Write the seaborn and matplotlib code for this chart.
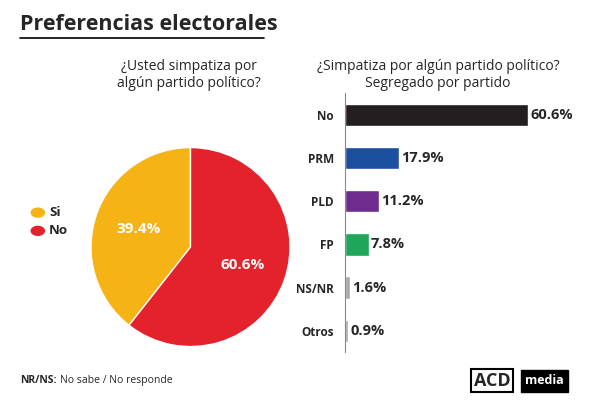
import matplotlib.pyplot as plt
import seaborn as sns
import pandas as pd
import numpy as np

sns.set_style("white")
plt.rcParams['font.family'] = ['Open Sans', 'DejaVu Sans']

pie_labels = ["Si", "No"]
pie_values = [39.4, 60.6]
pie_colors = ["#F6B316", "#E3222B"]

parties = ["No", "PRM", "PLD", "FP", "NS/NR", "Otros"]
party_values = [60.6, 17.9, 11.2, 7.8, 1.6, 0.9]
party_colors = ["#231F20", "#1D4F9F", "#6D2C8E", "#1FA65A", "#A8A9AD", "#A8A9AD"]

fig = plt.figure(figsize=(6, 4.05), dpi=100)

fig.text(0.033, 0.94, "Preferencias electorales", fontsize=15.5, fontweight="bold",
         ha="left", va="center")
fig.add_artist(plt.Line2D([0.033, 0.44], [0.905, 0.905], color="black", lw=1.2))

fig.text(0.315, 0.815, "¿Usted simpatiza por\nalgún partido político?", fontsize=10,
         ha="center", va="center", linespacing=1.2)
fig.text(0.73, 0.815, "¿Simpatiza por algún partido político?\nSegregado por partido",
         fontsize=10, ha="center", va="center", linespacing=1.2)

ax1 = fig.add_axes([0.15, 0.14, 0.335, 0.5])
wedges, _ = ax1.pie(pie_values, colors=pie_colors, startangle=90, counterclock=True)
ax1.set_xlim(-1.01, 1.01)
ax1.set_ylim(-1.01, 1.01)
ax1.set_aspect("equal")
for w, v in zip(wedges, pie_values):
    ang = np.deg2rad((w.theta1 + w.theta2) / 2)
    ax1.text(0.55 * np.cos(ang), 0.55 * np.sin(ang), f"{v}%", color="white",
             fontsize=11, fontweight="bold", ha="center", va="center")

for i, (lab, col) in enumerate(zip(pie_labels, pie_colors)):
    y = 0.475 - i * 0.045
    fig.patches.append(plt.Circle((0.063, y), 0.011, color=col,
                                  transform=fig.transFigure, figure=fig))
    fig.text(0.082, y, lab, fontsize=9.5, fontweight="bold", va="center")

df = pd.DataFrame({"party": parties, "value": party_values})
ax2 = fig.add_axes([0.575, 0.13, 0.305, 0.64])
sns.barplot(data=df, x="value", y="party", hue="party", palette=party_colors,
            legend=False, ax=ax2, width=0.52, saturation=1)
ax2.set_xlim(0, 60.6)
ax2.set_xlabel("")
ax2.set_ylabel("")
ax2.set_xticks([])
for s in ["top", "right", "bottom"]:
    ax2.spines[s].set_visible(False)
ax2.spines["left"].set_color("#888888")
ax2.tick_params(axis="y", length=0, pad=8)
for t in ax2.get_yticklabels():
    t.set_fontweight("bold")
    t.set_fontsize(8.5)
for i, v in enumerate(party_values):
    ax2.text(v + 0.8, i, f"{v}%", fontsize=10.5, fontweight="bold", va="center", clip_on=False)

fig.text(0.033, 0.06, "NR/NS:", fontsize=7.5, fontweight="bold", va="center")
fig.text(0.1, 0.06, "No sabe / No responde", fontsize=7.5, va="center")

fig.text(0.79, 0.06, "ACD", fontsize=13, fontweight="bold", va="center", ha="left",
         bbox=dict(boxstyle="square,pad=0.15", fc="white", ec="black", lw=1.5))
fig.text(0.875, 0.06, "media", fontsize=9, fontweight="bold", color="white", va="center",
         ha="left", bbox=dict(boxstyle="square,pad=0.35", fc="black", ec="black"))

fig.savefig("out.png", dpi=100)
